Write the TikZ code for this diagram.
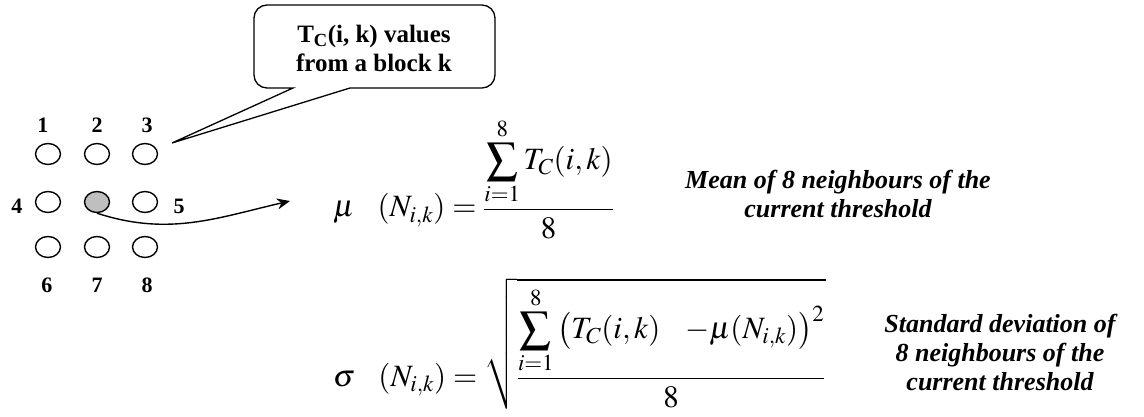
\documentclass[tikz,border=0pt]{standalone}
\usepackage{mathptmx}
\usepackage{fontspec}
\setmainfont{Liberation Serif}
\usetikzlibrary{arrows.meta,shapes.geometric}
\tikzset{
  cell/.style={draw, line width=1.4pt, ellipse, minimum width=25pt, minimum height=21pt, inner sep=0pt},
  curcell/.style={cell, fill=black!25},
  numlbl/.style={font=\fontsize{22}{26}\selectfont\bfseries, anchor=base, inner sep=0pt},
  calltext/.style={font=\fontsize{25}{29}\selectfont\bfseries, align=center, anchor=base, inner sep=0pt},
  note/.style={font=\fontsize{26}{29}\selectfont\bfseries\itshape, align=center, anchor=base, inner sep=0pt},
  formula/.style={font=\fontsize{31}{36}\selectfont, anchor=base west, inner sep=0pt},
  link/.style={line width=1.4pt}
}
\begin{document}
\begin{tikzpicture}[x=1pt,y=-1pt]
\useasboundingbox (0,0) rectangle (1144,417);
% neighbourhood grid
\node[cell] (n1) at (48,154) {};
\node[cell] (n2) at (97,154) {};
\node[cell] (n3) at (145,154) {};
\node[cell] (n4) at (48,202) {};
\node[curcell] (c) at (97,202) {};
\node[cell] (n5) at (145,202) {};
\node[cell] (n6) at (48,247) {};
\node[cell] (n7) at (97,247) {};
\node[cell] (n8) at (145,247) {};
\node[numlbl] (l1) at (43,133) {1};
\node[numlbl] (l2) at (97,133) {2};
\node[numlbl] (l3) at (147,133) {3};
\node[numlbl] (l4) at (17,213) {4};
\node[numlbl] (l5) at (179,213) {5};
\node[numlbl] (l6) at (47,292) {6};
\node[numlbl] (l7) at (97,292) {7};
\node[numlbl] (l8) at (147,292) {8};
% callout
\coordinate (tip) at (172,143);
\draw[line width=1.3pt] (293,88) [rounded corners=13pt] -- (254,88) -- (254,5) -- (495,5) -- (495,88) [sharp corners] -- (350,88) -- (tip) -- cycle;
\node[calltext] (ct) at (374,72) {T\textsubscript{C}(i, k) values\\from a block k};
% arrow to formula
\coordinate (atip) at (290,201);
\draw[link, -{Stealth[length=13pt,width=11pt]}] (c.south) to[out=-18, in=193] (atip);
% formulas
\node[formula] (mu) at (333,217) {$\displaystyle \mu\hspace{0.75em}(N_{i,k})=\frac{\displaystyle\sum_{i=1}^{8}T_C(i,k)}{8}$};
\node[formula] (sd) at (333,386) {$\displaystyle \sigma\hspace{0.75em}(N_{i,k})=\sqrt{\frac{\displaystyle\sum_{i=1}^{8}\left(T_C(i,k)\hspace{0.8em}{-}\mu(N_{i,k})\right)^2}{8}}$};
% notes
\node[note] (mnote) at (838,218) {Mean of 8 neighbours of the\\current threshold};
\node[note] (snote) at (1000,390) {Standard deviation of\\8 neighbours of the\\current threshold};
\end{tikzpicture}
\end{document}
